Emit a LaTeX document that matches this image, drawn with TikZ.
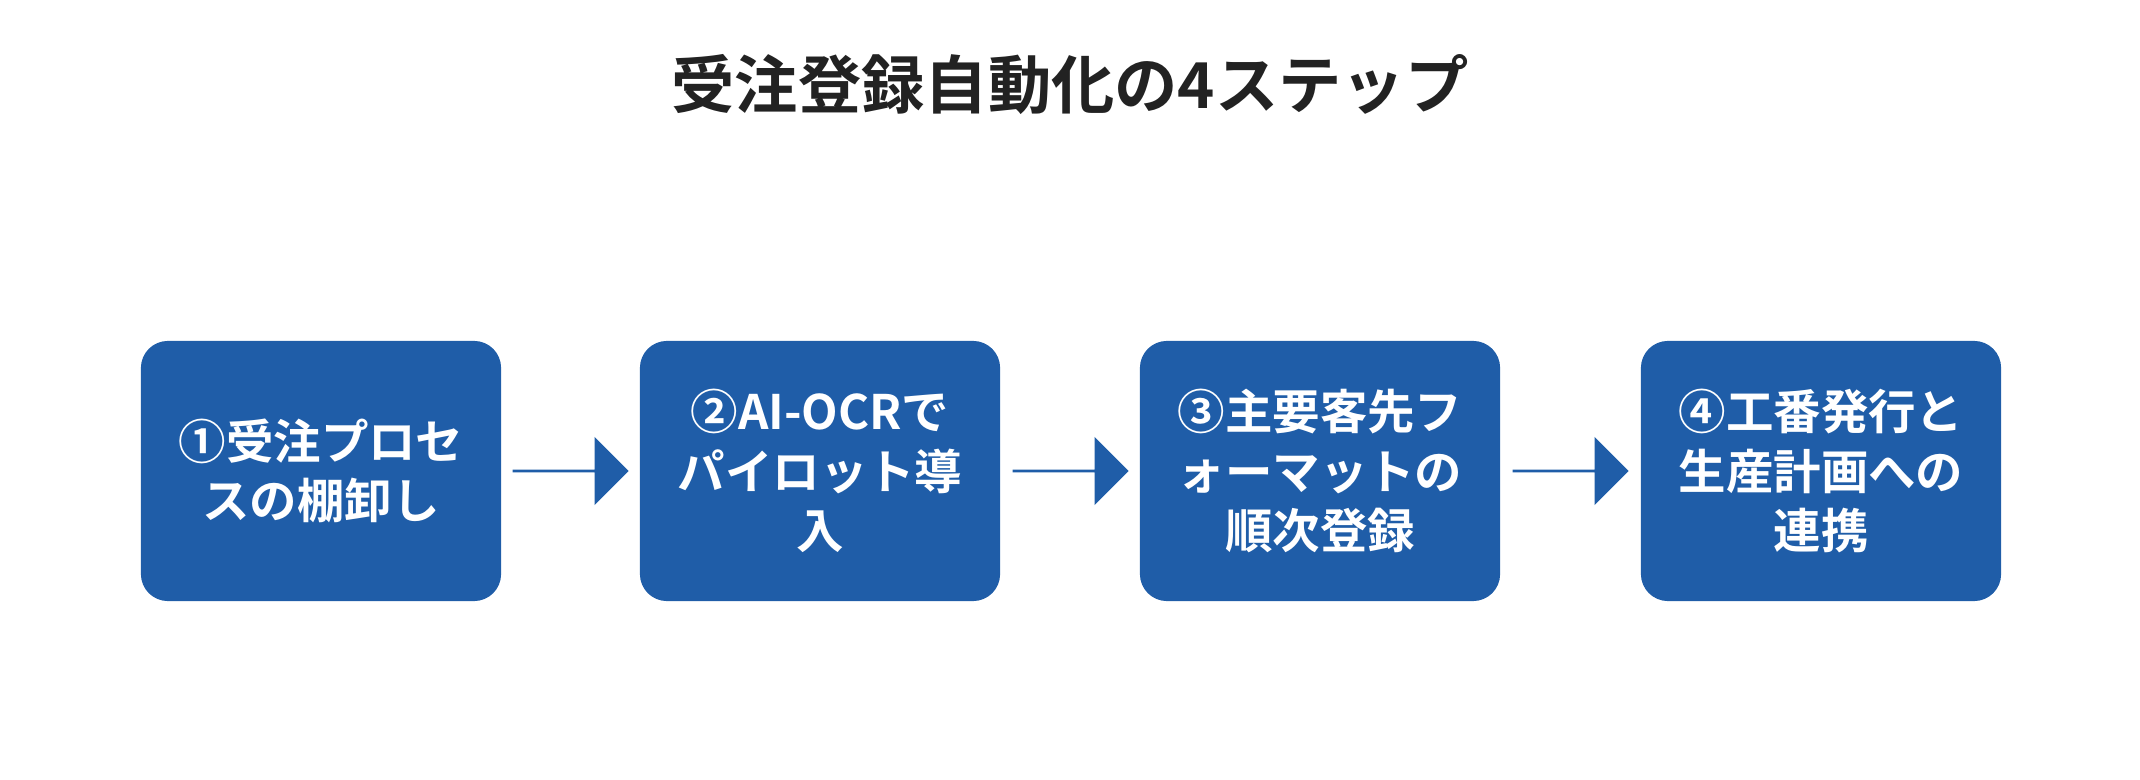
\documentclass[tikz,border=0pt]{standalone}
\usepackage{fontspec}
\setmainfont{Noto Sans CJK JP}[BoldFont={* Bold}]
\usetikzlibrary{shapes.arrows}
\definecolor{boxblue}{HTML}{1F5DA8}
\definecolor{titlec}{HTML}{222222}
\begin{document}
\begin{tikzpicture}[x=0.01cm,y=-0.01cm,
  stepbox/.style={fill=boxblue,rounded corners=0.27cm,minimum width=3.6cm,minimum height=2.6cm,
    text=white,font=\bfseries\fontsize{13.5pt}{17pt}\selectfont,align=center,inner sep=0pt},
  arr/.style={single arrow,fill=boxblue,draw=none,minimum height=1.16cm,minimum width=0.68cm,
    single arrow head extend=0.18cm,inner sep=0pt}]
\useasboundingbox (0,0) rectangle (2140,780);
\node[font=\bfseries\fontsize{18pt}{22pt}\selectfont,text=titlec] (title) at (1070,85) {受注登録自動化の4ステップ};
\node[stepbox] (s1) at (321,471) {①受注プロセ\\スの棚卸し};
\node[stepbox] (s2) at (820,471) {②AI-OCRで\\パイロット導\\入};
\node[stepbox] (s3) at (1320,471) {③主要客先フ\\ォーマットの\\順次登録};
\node[stepbox] (s4) at (1821,471) {④工番発行と\\生産計画への\\連携};
\node[arr] (a1) at (570,471) {};
\node[arr] (a2) at (1070,471) {};
\node[arr] (a3) at (1570,471) {};
\end{tikzpicture}
\end{document}
